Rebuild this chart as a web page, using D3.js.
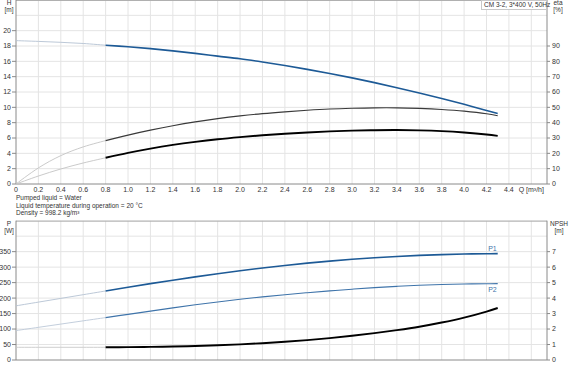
<!DOCTYPE html>
<html>
<head>
<meta charset="utf-8">
<script src="https://cdn.jsdelivr.net/npm/d3@7"></script>
<style>
  body { margin: 0; background: #fff; }
  text { font-family: "Liberation Sans", Arial, sans-serif; fill: #333; }
</style>
</head>
<body>
<div id="chart"></div>
<script>
// flow points (m3/h)
let flow = [0, 0.2, 0.4, 0.6, 0.8, 1.0, 1.2, 1.4, 1.6, 1.8, 2.0, 2.2, 2.4, 2.6, 2.8, 3.0, 3.2, 3.4, 3.6, 3.8, 4.0, 4.2, 4.3];
// head H [m]
let head = [18.7, 18.6, 18.48, 18.33, 18.1, 17.9, 17.66, 17.37, 17.04, 16.68, 16.33, 15.91, 15.45, 14.95, 14.42, 13.84, 13.22, 12.56, 11.87, 11.15, 10.39, 9.6, 9.2];
// efficiency curves [%]
let etaPump = [0, 10.5, 18.5, 24.2, 28.3, 31.9, 35.1, 38.0, 40.5, 42.6, 44.4, 45.9, 47.1, 48.1, 48.9, 49.4, 49.7, 49.7, 49.3, 48.6, 47.5, 45.8, 44.5];
let etaTotal = [0, 5.2, 9.8, 13.7, 17.1, 20.3, 23.1, 25.5, 27.5, 29.2, 30.6, 31.8, 32.8, 33.6, 34.3, 34.8, 35.1, 35.2, 35.0, 34.5, 33.6, 32.3, 31.4];
// power [W]
let p1 = [175, 187, 199, 211, 223, 235, 246.6, 257.8, 268.6, 278.8, 288.4, 297.3, 305.5, 312.9, 319.5, 325.3, 330.3, 334.5, 337.9, 340.5, 342.3, 343.3, 343.5];
let p2 = [95, 105.5, 116, 126.5, 137, 147.5, 158, 168.3, 178.3, 187.6, 196.2, 204, 211, 217.4, 223.3, 228.8, 233.8, 238, 241.4, 243.9, 245.5, 246.4, 246.6];
// NPSH [m]
let npsh = [0.82, 0.82, 0.82, 0.82, 0.82, 0.83, 0.845, 0.87, 0.905, 0.95, 1.01, 1.085, 1.175, 1.285, 1.415, 1.565, 1.735, 1.93, 2.15, 2.42, 2.74, 3.13, 3.36];

let xTicks = [0, 0.2, 0.4, 0.6, 0.8, 1.0, 1.2, 1.4, 1.6, 1.8, 2.0, 2.2, 2.4, 2.6, 2.8, 3.0, 3.2, 3.4, 3.6, 3.8, 4.0, 4.2, 4.4];
let hTicks = [0, 2, 4, 6, 8, 10, 12, 14, 16, 18, 20];
let etaTicks = [0, 10, 20, 30, 40, 50, 60, 70, 80, 90];
let pTicks = [0, 50, 100, 150, 200, 250, 300, 350];
let npshTicks = [0, 1, 2, 3, 4, 5, 6, 7];
let notes = ["Pumped liquid = Water", "Liquid temperature during operation = 20 °C", "Density = 998.2 kg/m³"];
let qStart = 0.8; // start of the solid part of every curve

let svgWidth = 570;
let svgHeight = 369;

let svg = d3.select("#chart")
  .append("svg")
  .attr("width", svgWidth)
  .attr("height", svgHeight);

let x = d3.scaleLinear().domain([0, 4.74]).range([16, 547]);

// top panel scales
let yH = d3.scaleLinear().domain([0, 24]).range([184, 0]);
let yEta = d3.scaleLinear().domain([0, 120]).range([184, 0]);
// bottom panel scales
let yP = d3.scaleLinear().domain([0, 450]).range([360, 220.7]);
let yN = d3.scaleLinear().domain([0, 9]).range([360, 220.7]);

let gridColor = "#e4e4e4";
let axisColor = "#8a8a8a";

function drawPanel(yScale, yMax, leftTicks, rightScale, rightTicks) {
  let top = yScale(yMax);
  let bottom = yScale(0);
  let g = svg.append("g");

  // horizontal grid
  let step = leftTicks[1] - leftTicks[0];
  g.selectAll(null)
    .data(d3.range(step, yMax + 0.001, step))
    .enter().append("line")
    .attr("x1", x(0)).attr("x2", x.range()[1])
    .attr("y1", d => yScale(d)).attr("y2", d => yScale(d))
    .attr("stroke", gridColor);

  // vertical grid
  g.selectAll(null)
    .data(xTicks.slice(1).concat([4.6]))
    .enter().append("line")
    .attr("x1", d => x(d)).attr("x2", d => x(d))
    .attr("y1", top).attr("y2", bottom)
    .attr("stroke", gridColor);

  // frame
  g.append("line").attr("x1", x(0)).attr("x2", x.range()[1]).attr("y1", top + 0.5).attr("y2", top + 0.5).attr("stroke", "#b0b0b0");
  g.append("line").attr("x1", x(0)).attr("x2", x.range()[1]).attr("y1", bottom).attr("y2", bottom).attr("stroke", axisColor);
  g.append("line").attr("x1", x(0)).attr("x2", x(0)).attr("y1", top).attr("y2", bottom).attr("stroke", axisColor);
  g.append("line").attr("x1", x.range()[1]).attr("x2", x.range()[1]).attr("y1", top).attr("y2", bottom).attr("stroke", axisColor);

  // left ticks
  g.selectAll(null).data(leftTicks).enter().append("line")
    .attr("x1", x(0) - 4).attr("x2", x(0))
    .attr("y1", d => yScale(d)).attr("y2", d => yScale(d))
    .attr("stroke", axisColor);
  g.selectAll(null).data(leftTicks).enter().append("text")
    .attr("x", x(0) - 5).attr("y", d => yScale(d)).attr("dy", "0.35em")
    .attr("text-anchor", "end").attr("font-size", "7px")
    .text(d => d);

  // right ticks
  let xr = x.range()[1];
  g.selectAll(null).data(rightTicks).enter().append("line")
    .attr("x1", xr).attr("x2", xr + 3)
    .attr("y1", d => rightScale(d)).attr("y2", d => rightScale(d))
    .attr("stroke", axisColor);
  g.selectAll(null).data(rightTicks).enter().append("text")
    .attr("x", xr + 5).attr("y", d => rightScale(d)).attr("dy", "0.35em")
    .attr("font-size", "7px")
    .text(d => d);
  return g;
}

drawPanel(yH, 24, hTicks, yEta, etaTicks);
drawPanel(yP, 450, pTicks, yN, npshTicks);

// x tick labels (top panel only)
svg.selectAll(null).data(xTicks).enter().append("text")
  .attr("x", d => x(d)).attr("y", 190).attr("dy", "0.35em")
  .attr("text-anchor", "middle").attr("font-size", "7px")
  .text(d => d.toFixed(1).replace(/^0\.0$/, "0"));
svg.append("text").attr("x", x(4.6)).attr("y", 190).attr("dy", "0.35em")
  .attr("text-anchor", "middle").attr("font-size", "7px").text("Q [m³/h]");

// axis titles
function axisTitle(xPos, yPos, lines, anchor) {
  lines.forEach(function(t, i) {
    svg.append("text").attr("x", xPos).attr("y", yPos + i * 7)
      .attr("text-anchor", anchor).attr("font-size", "6.5px").text(t);
  });
}
axisTitle(9, 5, ["H", "[m]"], "middle");
axisTitle(558, 5, ["eta", "[%]"], "middle");
axisTitle(9, 226, ["P", "[W]"], "middle");
axisTitle(559, 226, ["NPSH", "[m]"], "middle");

// legend box
svg.append("rect").attr("x", 481.5).attr("y", 0.5).attr("width", 65).attr("height", 9)
  .attr("fill", "#fff").attr("stroke", "#c8c8c8");
svg.append("text").attr("x", 484).attr("y", 7).attr("font-size", "6.5px").text("CM 3-2, 3*400 V, 50Hz");

// liquid notes
svg.selectAll(null).data(notes).enter().append("text")
  .attr("x", 16).attr("y", (d, i) => 200 + i * 7.5)
  .attr("font-size", "6.5px")
  .text(d => d);

// curves
function drawCurve(values, yScale, color, width, fadeColor) {
  let pts = flow.map((q, i) => [q, values[i]]);
  let line = d3.line()
    .x(d => x(d[0]))
    .y(d => yScale(d[1]))
    .curve(d3.curveCatmullRom);
  svg.append("path")
    .attr("d", line(pts.filter(d => d[0] <= qStart)))
    .attr("fill", "none").attr("stroke", fadeColor).attr("stroke-width", 0.9);
  svg.append("path")
    .attr("d", line(pts.filter(d => d[0] >= qStart)))
    .attr("fill", "none").attr("stroke", color).attr("stroke-width", width);
}

drawCurve(head, yH, "#1d5a96", 1.6, "#b4c2d2");
drawCurve(etaPump, yEta, "#3a3a3a", 1.2, "#c4c4c4");
drawCurve(etaTotal, yEta, "#000", 1.9, "#c4c4c4");
drawCurve(p1, yP, "#1d5a96", 1.6, "#b4c2d2");
drawCurve(p2, yP, "#3f74aa", 1.1, "#bcc8d8");
drawCurve(npsh, yN, "#000", 1.9, "#c8c8c8");

// series labels
svg.append("text").attr("x", x(4.3) - 1).attr("y", yP(p1[p1.length - 1]) - 3)
  .attr("text-anchor", "end").attr("font-size", "7px").style("fill", "#3f74aa").text("P1");
svg.append("text").attr("x", x(4.3) - 1).attr("y", yP(p2[p2.length - 1]) + 8)
  .attr("text-anchor", "end").attr("font-size", "7px").style("fill", "#3f74aa").text("P2");
</script>
</body>
</html>
